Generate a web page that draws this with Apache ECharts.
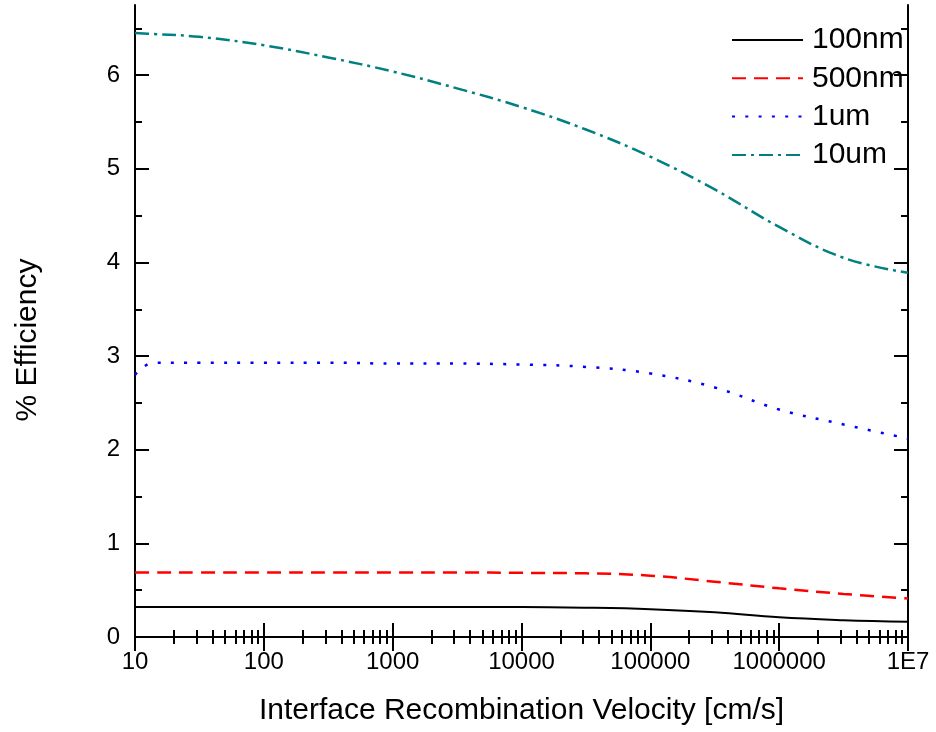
<!DOCTYPE html>
<html>
<head>
<meta charset="utf-8">
<script src="https://cdn.jsdelivr.net/npm/echarts@6/dist/echarts.min.js"></script>
<style>
  html, body { margin: 0; padding: 0; background: #fff; }
  #chart { width: 936px; height: 732px; }
</style>
</head>
<body>
<div id="chart"></div>
<script>
// Interface recombination velocity, cm/s (half-decade steps)
const velocity = [10, 14, 31.6, 100, 316, 1000, 3160, 1e4, 3.16e4, 1e5, 3.16e5, 1e6, 3.16e6, 1e7];

// Efficiency (%) for each absorber thickness
const eff100nm = [0.32, 0.32, 0.32, 0.32, 0.32, 0.32, 0.32, 0.32, 0.313, 0.297, 0.264, 0.21, 0.18, 0.163];
const eff500nm = [0.69, 0.69, 0.69, 0.69, 0.69, 0.69, 0.69, 0.685, 0.68, 0.655, 0.59, 0.52, 0.46, 0.41];
const eff1um   = [2.80, 2.93, 2.93, 2.93, 2.93, 2.92, 2.92, 2.91, 2.885, 2.815, 2.665, 2.43, 2.27, 2.12];
const eff10um  = [6.45, 6.44, 6.41, 6.32, 6.19, 6.04, 5.86, 5.66, 5.42, 5.13, 4.78, 4.38, 4.05, 3.89];

const seriesNames = ['100nm', '500nm', '1um', '10um'];

// Tick positions
const xMajor = [10, 100, 1000, 1e4, 1e5, 1e6, 1e7];
const xMinor = [];
for (let d = 10; d < 1e7; d *= 10) {
  for (let k = 2; k <= 9; k++) xMinor.push(d * k);
}
const yMajor = [0, 1, 2, 3, 4, 5, 6];
const yMinor = [0.5, 1.5, 2.5, 3.5, 4.5, 5.5, 6.5];

const FONT = '"Liberation Sans", Arial, Helvetica, sans-serif';
const black = '#000';

function pairs(ys) {
  return velocity.map((x, i) => [x, ys[i]]);
}

function xAxisDef(position, ticks, len, opts) {
  return Object.assign({
    type: 'log', logBase: 10, min: 10, max: 1e7,
    gridIndex: 0, position: position,
    axisLine: { show: false },
    axisTick: { show: true, inside: true, length: len, customValues: ticks,
                lineStyle: { color: black, width: 2 } },
    axisLabel: { show: false },
    splitLine: { show: false },
    minorTick: { show: false }
  }, opts || {});
}

function yAxisDef(position, ticks, len, opts) {
  return Object.assign({
    type: 'value', min: 0, max: 6.75,
    gridIndex: 0, position: position,
    axisLine: { show: false },
    axisTick: { show: true, inside: true, length: len, customValues: ticks,
                lineStyle: { color: black, width: 2 } },
    axisLabel: { show: false },
    splitLine: { show: false }
  }, opts || {});
}

function lineSeries(name, values, color, width, dash) {
  return {
    name: name, type: 'line', data: pairs(values),
    xAxisIndex: 0, yAxisIndex: 0,
    symbol: 'none', smooth: 0.4,
    color: color,
    lineStyle: { color: color, width: width, type: dash }
  };
}

const chart = echarts.init(document.getElementById('chart'), null, { renderer: 'canvas' });

chart.setOption({
  backgroundColor: '#fff',
  animation: false,
  textStyle: { fontFamily: FONT, color: black },
  grid: { left: 135, top: 5, width: 773, height: 632, containLabel: false },
  legend: {
    orient: 'vertical',
    left: 731, top: 25,
    padding: 0,
    itemWidth: 71, itemHeight: 14, itemGap: 8.3,
    data: seriesNames,
    itemStyle: { opacity: 0, borderWidth: 0 },
    textStyle: { fontSize: 30, color: black, fontFamily: FONT, lineHeight: 30, padding: [0, 0, 0, 4] }
  },
  xAxis: [
    xAxisDef('bottom', xMajor, 14, {
      axisLine: { show: true, lineStyle: { color: black, width: 2 } },
      axisLabel: {
        show: true, fontSize: 24, color: black, margin: 13, customValues: xMajor,
        formatter: v => (v >= 1e7 ? '1E7' : String(Math.round(v)))
      },
      name: 'Interface Recombination Velocity [cm/s]',
      nameLocation: 'middle', nameGap: 59,
      nameTextStyle: { fontSize: 30, color: black, fontFamily: FONT }
    }),
    xAxisDef('bottom', xMinor, 7),
    xAxisDef('top', xMajor, 14, {
      axisLine: { show: true, lineStyle: { color: black, width: 2 } }
    }),
    xAxisDef('top', xMinor, 7)
  ],
  yAxis: [
    yAxisDef('left', yMajor, 14, {
      axisLine: { show: true, lineStyle: { color: black, width: 2 } },
      axisLabel: { show: true, fontSize: 24, color: black, margin: 15, customValues: yMajor },
      name: '% Efficiency',
      nameLocation: 'middle', nameGap: 92, nameRotate: 90,
      nameTextStyle: { fontSize: 30, color: black, fontFamily: FONT, padding: [0, 38, 0, 0] }
    }),
    yAxisDef('left', yMinor, 7),
    yAxisDef('right', yMajor, 14, {
      axisLine: { show: true, lineStyle: { color: black, width: 2 } }
    }),
    yAxisDef('right', yMinor, 7)
  ],
  series: [
    lineSeries('100nm', eff100nm, '#000000', 2, 'solid'),
    lineSeries('500nm', eff500nm, '#ff0000', 2.5, [14, 8]),
    lineSeries('1um', eff1um, '#0000ff', 2.5, [3, 10.3]),
    lineSeries('10um', eff10um, '#008080', 2.5, [14, 5, 3, 5])
  ]
});
</script>
</body>
</html>
